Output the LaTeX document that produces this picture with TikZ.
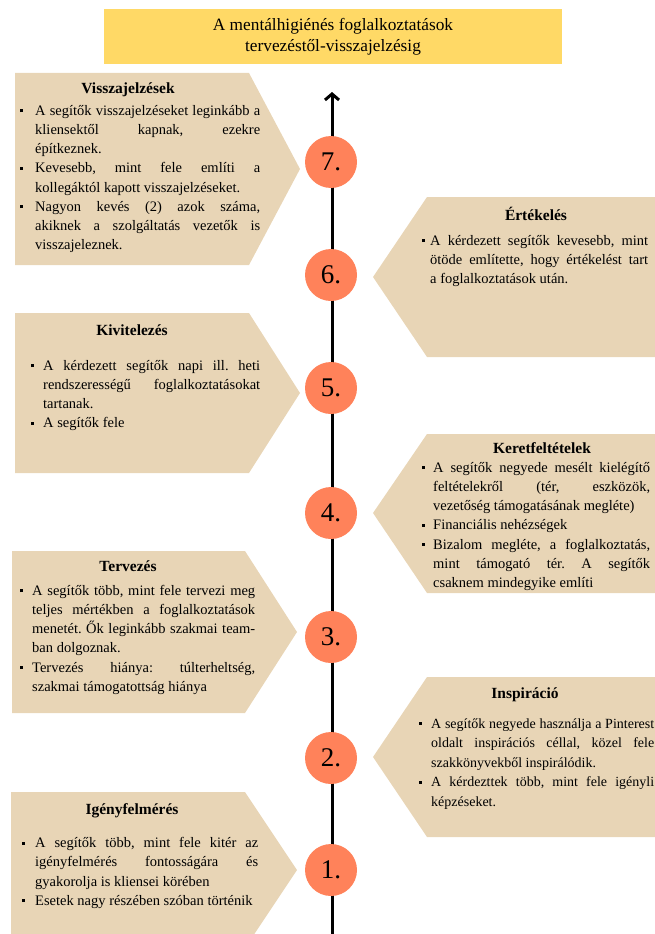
\documentclass[tikz,border=0pt]{standalone}
\usepackage{fontspec}
\setmainfont{Liberation Serif}
\usetikzlibrary{arrows.meta}
\definecolor{boxfill}{RGB}{232,213,182}
\definecolor{circfill}{RGB}{255,130,90}
\definecolor{titlefill}{RGB}{255,217,102}
\newcommand{\bul}[1]{\par\noindent\parshape 2 0pt \linewidth #1 \dimexpr\linewidth-#1\relax\makebox[#1][l]{\raisebox{0.22em}{\rule{2.8pt}{2.8pt}}}\strut}
\newcommand{\bodyfont}{\fontsize{14.5}{19.2}\selectfont\frenchspacing\tolerance=10000\relax\hbadness=10000\relax}
\newcommand{\bodyfonttwo}{\fontsize{14}{19.6}\selectfont\frenchspacing\tolerance=10000\relax\hbadness=10000\relax}
\tikzset{
  titlebox/.style={fill=titlefill, minimum width=458pt, minimum height=55pt, align=center, inner sep=0pt, font=\fontsize{17.3}{21}\selectfont},
  circ/.style={circle, fill=circfill, minimum size=52pt, inner sep=0pt, font=\fontsize{27}{27}\selectfont},
  headtext/.style={anchor=base, inner sep=0pt, font=\fontsize{15.5}{18}\selectfont\bfseries},
  bodytext/.style={anchor=north west, inner sep=0pt},
  pent/.style={fill=boxfill}
}
\begin{document}
\begin{tikzpicture}[x=1pt, y=-1pt]
\useasboundingbox (0,0) rectangle (655,934);
\clip (0,0) rectangle (655,934);
% title
\node[titlebox] (title) at (333,36.5) {A mentálhigiénés foglalkoztatások\\tervezéstől-visszajelzésig};
% boxes
\fill[pent] (15,73) -- (249,73) -- (300,169) -- (249,265) -- (15,265) -- cycle;
\fill[pent] (655,197) -- (427,197) -- (373,277) -- (427,357) -- (655,357) -- cycle;
\fill[pent] (15,313) -- (249,313) -- (300,393) -- (249,473) -- (15,473) -- cycle;
\fill[pent] (655,434) -- (427,434) -- (373,513) -- (427,593) -- (655,593) -- cycle;
\fill[pent] (12,551) -- (245,551) -- (297,632) -- (245,713) -- (12,713) -- cycle;
\fill[pent] (655,677) -- (427,677) -- (373,757) -- (427,837) -- (655,837) -- cycle;
\fill[pent] (11,792) -- (245,792) -- (297,870) -- (245,948) -- (11,948) -- cycle;
% axis
\coordinate (axbot) at (332,940);
\coordinate (axtop) at (332,92);
\draw[line width=3pt, -{Straight Barb[length=6pt,width=14pt,line width=3pt]}] (axbot) -- (axtop);
% circles
\node[circ] (c7) at (331,162) {7.};
\node[circ] (c6) at (331,275) {6.};
\node[circ] (c5) at (331,388) {5.};
\node[circ] (c4) at (331,513) {4.};
\node[circ] (c3) at (331,637) {3.};
\node[circ] (c2) at (331,758) {2.};
\node[circ] (c1) at (331,870) {1.};
% headings
\node[headtext] (h7) at (128,93) {Visszajelzések};
\node[headtext] (h6) at (536,220) {Értékelés};
\node[headtext] (h5) at (132,335) {Kivitelezés};
\node[headtext] (h4) at (542,453) {Keretfeltételek};
\node[headtext] (h3) at (128,571) {Tervezés};
\node[headtext] (h2) at (525,698) {Inspiráció};
\node[headtext] (h1) at (132,814) {Igényfelmérés};
% bodies
\node[bodytext] (b7) at (20,101.6) {\begin{minipage}[t]{240pt}\bodyfont
\bul{15pt}A segítők visszajelzéseket leginkább a\linebreak kliensektől kapnak, ezekre\linebreak építkeznek.
\bul{15pt}Kevesebb, mint fele említi a\linebreak kollegáktól kapott visszajelzéseket.
\bul{15pt}Nagyon kevés (2) azok száma,\linebreak akiknek a szolgáltatás vezetők is\linebreak visszajeleznek.\end{minipage}};
\node[bodytext] (b6) at (422,231.6) {\begin{minipage}[t]{226pt}\bodyfont
\bul{8pt}A kérdezett segítők kevesebb, mint\linebreak ötöde említette, hogy értékelést tart\linebreak a foglalkoztatások után.\end{minipage}};
\node[bodytext] (b5) at (31,356.6) {\begin{minipage}[t]{229pt}\bodyfont
\bul{12pt}A kérdezett segítők napi ill. heti\linebreak rendszerességű foglalkoztatásokat\linebreak tartanak.
\bul{12pt}A segítők fele\end{minipage}};
\node[bodytext] (b4) at (422,458.6) {\begin{minipage}[t]{228pt}\bodyfont
\bul{11pt}A segítők negyede mesélt kielégítő\linebreak feltételekről (tér, eszközök,\linebreak vezetőség támogatásának megléte)
\bul{11pt}Financiális nehézségek
\bul{11pt}Bizalom megléte, a foglalkoztatás,\linebreak mint támogató tér. A segítők\linebreak csaknem mindegyike említi\end{minipage}};
\node[bodytext] (b3) at (20,581.6) {\begin{minipage}[t]{235pt}\bodyfont
\bul{12pt}A segítők több, mint fele tervezi meg\linebreak teljes mértékben a foglalkoztatások\linebreak menetét. Ők leginkább szakmai team-\linebreak ban dolgoznak.
\bul{12pt}Tervezés hiánya: túlterheltség,\linebreak szakmai támogatottság hiánya\end{minipage}};
\node[bodytext] (b2) at (419,714.1) {\begin{minipage}[t]{235pt}\bodyfonttwo
\bul{12pt}A segítők negyede használja a Pinterest\linebreak oldalt inspirációs céllal, közel fele\linebreak szakkönyvekből inspirálódik.
\bul{12pt}A kérdezttek több, mint fele igényli\linebreak képzéseket.\end{minipage}};
\node[bodytext] (b1) at (22,834.1) {\begin{minipage}[t]{236pt}\bodyfont
\bul{13pt}A segítők több, mint fele kitér az\linebreak igényfelmérés fontosságára és\linebreak gyakorolja is kliensei körében
\bul{13pt}Esetek nagy részében szóban történik\end{minipage}};
\end{tikzpicture}
\end{document}
